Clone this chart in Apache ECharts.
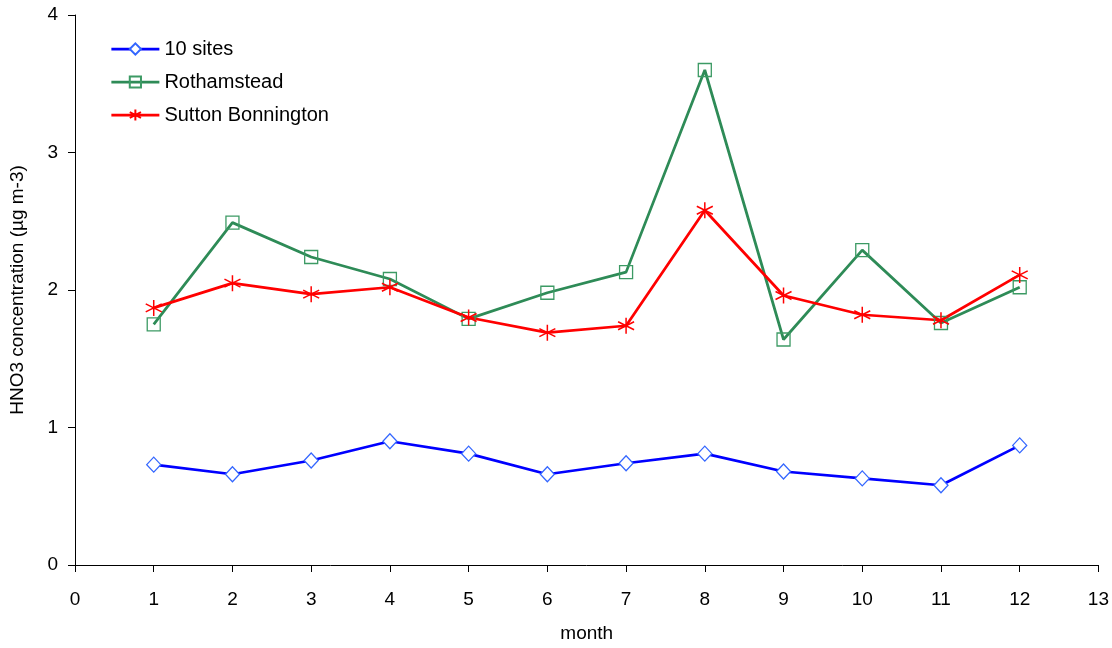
<!DOCTYPE html>
<html><head><meta charset="utf-8">
<script src="https://cdn.jsdelivr.net/npm/echarts@6/dist/echarts.min.js"></script>
<style>html,body{margin:0;padding:0;background:#fff}#c{width:1112px;height:648px}</style>
</head><body><div id="c"></div>
<script>
const months = [1,2,3,4,5,6,7,8,9,10,11,12];
const tenSites = [0.73,0.66,0.76,0.90,0.81,0.66,0.74,0.81,0.68,0.63,0.58,0.87];
const rothamstead = [1.75,2.49,2.24,2.08,1.79,1.98,2.13,3.60,1.64,2.29,1.76,2.02];
const sutton = [1.87,2.05,1.97,2.02,1.80,1.69,1.74,2.58,1.96,1.82,1.78,2.11];
const pair = arr => months.map((m,i)=>[m,arr[i]]);
const chart = echarts.init(document.getElementById('c'));
const font = 'Liberation Sans, Arial, sans-serif';
chart.setOption({
  animation:false,
  grid:{left:74,right:13,top:15,bottom:81},
  legend:{
    left:105, top:34, orient:'vertical', itemGap:13, itemWidth:48, itemHeight:14,
    textStyle:{fontFamily:font,fontSize:20,color:'#000'},
    lineStyle:{width:2.75},
    data:['10 sites','Rothamstead','Sutton Bonnington']
  },
  xAxis:{type:'value',min:0,max:13,interval:1,
    name:'month',nameLocation:'middle',nameGap:59,
    nameTextStyle:{fontFamily:font,fontSize:19,color:'#000'},
    axisLine:{show:true,onZero:false,lineStyle:{color:'#000',width:1}},
    axisTick:{show:true,length:7,lineStyle:{color:'#000'}},
    axisLabel:{fontFamily:font,fontSize:19,color:'#000',margin:25},
    splitLine:{show:false}},
  yAxis:{type:'value',min:0,max:4,interval:1,
    name:'HNO3 concentration (\u00b5g m-3)',nameLocation:'middle',nameGap:48,
    nameTextStyle:{fontFamily:font,fontSize:19,color:'#000'},
    axisLine:{show:true,lineStyle:{color:'#000',width:1}},
    axisTick:{show:true,length:7,lineStyle:{color:'#000'}},
    axisLabel:{fontFamily:font,fontSize:19,color:'#000',margin:17},
    splitLine:{show:false}},
  series:[
    {name:'10 sites',type:'line',data:pair(tenSites),symbol:'diamond',symbolSize:[14,15],
     lineStyle:{color:'#0000ff',width:2.75},itemStyle:{color:'#fff',borderColor:'#3366ff',borderWidth:1.3},color:'#0000ff'},
    {name:'Rothamstead',type:'line',data:pair(rothamstead),symbol:'rect',symbolSize:13,
     lineStyle:{color:'#2e8b57',width:2.75},itemStyle:{color:'rgba(255,255,255,0)',borderColor:'#3c9a64',borderWidth:1.3},color:'#2e8b57'},
    {name:'Sutton Bonnington',type:'line',data:pair(sutton),
     symbol:'path://M0,-1L0,1M-0.87,-0.5L0.87,0.5M-0.87,0.5L0.87,-0.5',symbolSize:16,
     lineStyle:{color:'#ff0000',width:2.75},itemStyle:{color:'none',borderColor:'#ff0000',borderWidth:1.5},color:'#ff0000'}
  ]
});
</script></body></html>
